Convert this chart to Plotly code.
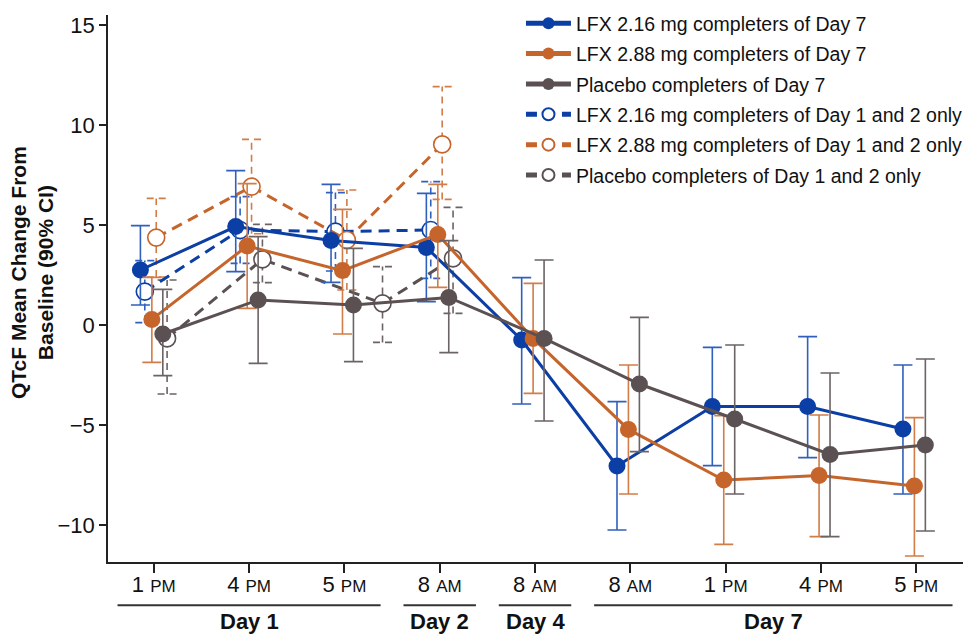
import plotly.graph_objects as go

# ---------------- data ----------------
tick_hours = ["1", "4", "5", "8", "8", "8", "1", "4", "5"]
tick_ampm = ["PM", "PM", "PM", "AM", "AM", "AM", "PM", "PM", "PM"]
day_groups = [("Day 1", 0, 2), ("Day 2", 3, 3), ("Day 4", 4, 4), ("Day 7", 5, 8)]

names = [
    "LFX 2.16 mg completers of Day 7",
    "LFX 2.88 mg completers of Day 7",
    "Placebo completers of Day 7",
    "LFX 2.16 mg completers of Day 1 and 2 only",
    "LFX 2.88 mg completers of Day 1 and 2 only",
    "Placebo completers of Day 1 and 2 only",
]

lfx216_d7_mean = [2.75, 4.92, 4.22, 3.88, -0.75, -7.05, -4.08, -4.08, -5.20]
lfx216_d7_hi = [4.97, 7.72, 7.03, 6.58, 2.37, -3.83, -1.12, -0.58, -2.00]
lfx216_d7_lo = [1.00, 2.67, 2.13, 1.17, -3.95, -10.25, -7.03, -6.63, -8.45]

lfx288_d7_mean = [0.28, 3.95, 2.72, 4.53, -0.67, -5.22, -7.75, -7.53, -8.05]
lfx288_d7_hi = [2.38, 7.07, 5.78, 7.03, 2.08, -2.00, -4.53, -4.50, -4.63]
lfx288_d7_lo = [-1.87, 0.83, -0.45, 1.88, -3.42, -8.45, -10.97, -10.58, -11.55]

pbo_d7_mean = [-0.45, 1.25, 1.00, 1.38, -0.67, -2.95, -4.70, -6.47, -6.00]
pbo_d7_hi = [1.78, 4.42, 3.83, 4.22, 3.25, 0.38, -1.00, -2.40, -1.70]
pbo_d7_lo = [-2.53, -1.92, -1.83, -1.38, -4.80, -6.33, -8.45, -10.58, -10.30]

lfx216_d12_mean = [1.67, 4.75, 4.67, 4.75]
lfx216_d12_hi = [3.22, 6.42, 6.62, 7.17]
lfx216_d12_lo = [0.12, 3.08, 2.70, 2.33]

lfx288_d12_mean = [4.37, 6.92, 4.25, 9.03]
lfx288_d12_hi = [6.33, 9.28, 6.75, 11.92]
lfx288_d12_lo = [2.40, 4.56, 1.75, 6.28]

pbo_d12_mean = [-0.67, 3.28, 1.08, 3.33]
pbo_d12_hi = [2.25, 5.03, 2.92, 5.88]
pbo_d12_lo = [-3.45, 2.12, -0.87, 0.58]

# ---------------- styles ----------------
BLUE, ORANGE, GRAY = "#0B3FA5", "#C6652B", "#5B5153"
BLUE_E, ORANGE_E, GRAY_E = "#3060BE", "#D27C47", "#6C6365"
FONT = "Liberation Sans, Arial, Helvetica, sans-serif"

# horizontal dodge (category units)
off_solid = [-0.14, -0.02, 0.095]
off_open = [-0.094, 0.026, 0.14]
extra_open_gray = [0, 0, 0.26, 0]

fig = go.Figure()

solid = [
    (lfx216_d7_mean, lfx216_d7_hi, lfx216_d7_lo, BLUE, BLUE_E),
    (lfx288_d7_mean, lfx288_d7_hi, lfx288_d7_lo, ORANGE, ORANGE_E),
    (pbo_d7_mean, pbo_d7_hi, pbo_d7_lo, GRAY, GRAY_E),
]
opens = [
    (lfx216_d12_mean, lfx216_d12_hi, lfx216_d12_lo, BLUE, BLUE_E),
    (lfx288_d12_mean, lfx288_d12_hi, lfx288_d12_lo, ORANGE, ORANGE_E),
    (pbo_d12_mean, pbo_d12_hi, pbo_d12_lo, GRAY, GRAY_E),
]

cap = 0.10
# dashed error bars for "Day 1 and 2 only" series (drawn first)
for k, (m, hi, lo, col, ecol) in enumerate(opens):
    xs = [i + off_open[k] + (extra_open_gray[i] if k == 2 else 0) for i in range(len(m))]
    sx, sy = [], []
    for x, h, l in zip(xs, hi, lo):
        sx += [x, x, None, x - cap, x + cap, None, x - cap, x + cap, None]
        sy += [l, h, None, h, h, None, l, l, None]
    fig.add_trace(go.Scatter(x=sx, y=sy, mode="lines", showlegend=False, hoverinfo="skip",
                             line=dict(color=ecol, width=1.6, dash="7px,5px")))

for k, (m, hi, lo, col, ecol) in enumerate(opens):
    xs = [i + off_open[k] + (extra_open_gray[i] if k == 2 else 0) for i in range(len(m))]
    fig.add_trace(go.Scatter(
        x=xs, y=m, mode="lines+markers", name=names[3 + k], legendrank=4 + k,
        legendgroup=names[3 + k],
        line=dict(color=col, width=3, dash="11px,7px"),
        marker=dict(size=17, color="white", line=dict(color=col, width=1.6)),
    ))

for k, (m, hi, lo, col, ecol) in enumerate(solid):
    xs = [i + off_solid[k] for i in range(len(m))]
    fig.add_trace(go.Scatter(
        x=xs, y=m, mode="lines+markers", name=names[k], legendrank=1 + k,
        legendgroup=names[k],
        line=dict(color=col, width=3),
        marker=dict(size=17, color=col),
        error_y=dict(type="data", symmetric=False,
                     array=[h - v for h, v in zip(hi, m)],
                     arrayminus=[v - l for v, l in zip(m, lo)],
                     color=ecol, thickness=1.6, width=9.5),
    ))

ticktext = [f"{h} <span style='font-size:17px'>{a}</span>" for h, a in zip(tick_hours, tick_ampm)]

# group lines and labels
for label, a, b in day_groups:
    fig.add_shape(type="line", xref="x", yref="paper", x0=a - 0.38, x1=b + 0.38,
                  y0=-0.079, y1=-0.079, line=dict(color="#333333", width=2))
    fig.add_annotation(x=(a + b) / 2, y=-0.108, xref="x", yref="paper", text=f"<b>{label}</b>",
                       showarrow=False, font=dict(size=22, color="#111111", family=FONT),
                       xanchor="center", yanchor="middle")

fig.add_annotation(x=-0.089, y=0.53, xref="paper", yref="paper",
                   text="<b>QTcF Mean Change From<br>Baseline (90% CI)</b>",
                   textangle=-90, showarrow=False, xanchor="center", yanchor="middle",
                   font=dict(size=21, color="#111111", family=FONT))

fig.update_layout(
    width=968, height=635,
    margin=dict(l=108, r=0, t=15, b=73),
    plot_bgcolor="white", paper_bgcolor="white",
    font=dict(family=FONT, color="#111111"),
    showlegend=True,
    legend=dict(x=0.483, y=1.02, xanchor="left", yanchor="top", traceorder="grouped",
                tracegroupgap=2, font=dict(size=19.5, color="#111111"),
                bgcolor="rgba(0,0,0,0)", itemwidth=45, itemsizing="constant"),
    xaxis=dict(range=[-0.48, 8.49], tickvals=list(range(9)), ticktext=ticktext,
               showline=True, linecolor="#222222", linewidth=1.5, ticks="outside",
               ticklen=9, tickwidth=1.5, tickcolor="#222222", showgrid=False, zeroline=False,
               ticklabelstandoff=-7, automargin=False,
               tickfont=dict(size=22, color="#111111")),
    yaxis=dict(range=[-11.85, 15.5], tickvals=[-10, -5, 0, 5, 10, 15],
               showline=True, linecolor="#222222", linewidth=1.5, ticks="outside",
               ticklen=7, tickwidth=1.5, tickcolor="#222222", showgrid=False, zeroline=False,
               automargin=False,
               tickfont=dict(size=22, color="#111111")),
)

fig.write_html("out.html", config={"displayModeBar": False},
               post_script="document.body.style.margin='0';document.body.style.padding='0';")
